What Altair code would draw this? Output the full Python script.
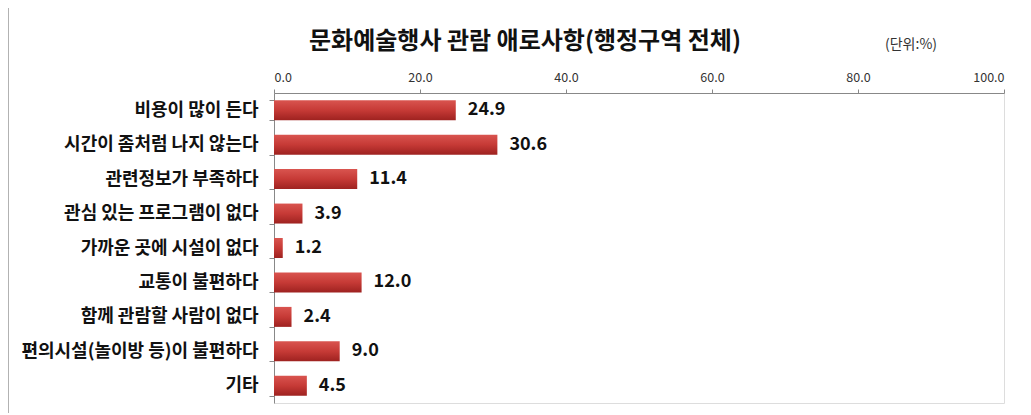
import altair as alt
import pandas as pd

categories = [
    "비용이 많이 든다",
    "시간이 좀처럼 나지 않는다",
    "관련정보가 부족하다",
    "관심 있는 프로그램이 없다",
    "가까운 곳에 시설이 없다",
    "교통이 불편하다",
    "함께 관람할 사람이 없다",
    "편의시설(놀이방 등)이 불편하다",
    "기타",
]
values = [24.9, 30.6, 11.4, 3.9, 1.2, 12.0, 2.4, 9.0, 4.5]
x_ticks = [0, 20, 40, 60, 80, 100]
title_text = "문화예술행사 관람 애로사항(행정구역 전체)"
unit_text = "(단위:%)"

df = pd.DataFrame({"cat": categories, "val": values})
df["label"] = [f"{v:.1f}" for v in values]

FONT = "Noto Sans CJK KR"
W, H = 730, 310

y_enc = alt.Y(
    "cat:N",
    sort=categories,
    scale=alt.Scale(paddingInner=0.42, paddingOuter=0.21),
    axis=alt.Axis(
        title=None,
        tickBand="extent",
        tickSize=5,
        tickColor="#888888",
        domainColor="#888888",
        labelFont=FONT,
        labelFontSize=18,
        labelFontWeight="bold",
        labelColor="#111111",
        labelPadding=11,
        labelLimit=300,
        grid=False,
    ),
)
x_enc = alt.X(
    "val:Q",
    scale=alt.Scale(domain=[0, 100]),
    axis=alt.Axis(
        orient="top",
        values=x_ticks,
        format=".1f",
        title=None,
        tickSize=4,
        tickColor="#888888",
        domainColor="#888888",
        labelFont=FONT,
        labelFontSize=12.5,
        labelColor="#333333",
        labelPadding=5,
        grid=False,
    ),
)

bars = alt.Chart(df).mark_bar(
    color=alt.Gradient(
        gradient="linear",
        x1=0, y1=0, x2=0, y2=1,
        stops=[
            alt.GradientStop(color="#d9544f", offset=0),
            alt.GradientStop(color="#c63a36", offset=0.5),
            alt.GradientStop(color="#9e2220", offset=1),
        ],
    ),
    cornerRadius=0,
).encode(x=x_enc, y=y_enc)

labels = alt.Chart(df).mark_text(
    align="left", baseline="middle", dx=12,
    font=FONT, fontSize=18, fontWeight="bold", color="#111111",
).encode(x="val:Q", y=alt.Y("cat:N", sort=categories), text="label:N")

title_df = pd.DataFrame({"t": [title_text]})
title = alt.Chart(title_df).mark_text(
    align="center", baseline="middle",
    font=FONT, fontSize=24, fontWeight="bold", color="#111111",
).encode(text="t:N", x=alt.value(251), y=alt.value(-51))

unit_df = pd.DataFrame({"t": [unit_text]})
unit = alt.Chart(unit_df).mark_text(
    align="center", baseline="middle",
    font=FONT, fontSize=14, color="#333333",
).encode(text="t:N", x=alt.value(637), y=alt.value(-48))

border = alt.Chart(pd.DataFrame({"a": [0]})).mark_rect(
    fill=None, stroke="#999999", strokeWidth=1.5,
).encode(x=alt.value(-266), x2=alt.value(800), y=alt.value(-86), y2=alt.value(400))

chart = alt.layer(border, bars, labels, title, unit).properties(
    width=W, height=H,
    autosize=alt.AutoSizeParams(type="none"),
    padding={"left": 266, "top": 85, "right": 15, "bottom": 10},
).configure_view(stroke=None).configure(background="white")

chart.save("out.html", embed_options={"renderer": "svg", "actions": False})
